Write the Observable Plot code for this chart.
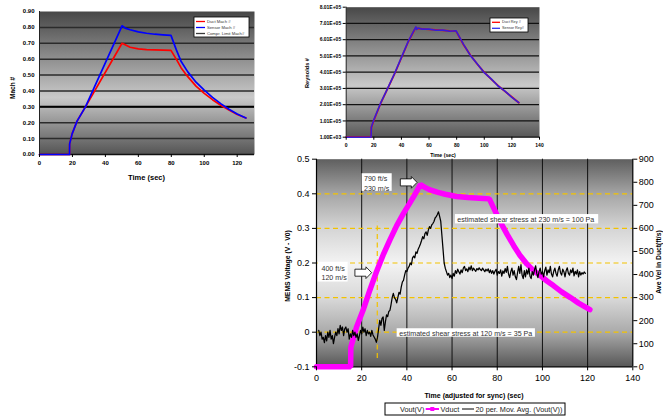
<!DOCTYPE html>
<html><head><meta charset="utf-8">
<script src="https://cdn.jsdelivr.net/npm/d3@7"></script>
<script src="https://cdn.jsdelivr.net/npm/@observablehq/plot@0.6"></script>
<style>
body{margin:0;background:#fff;}
#wrap{position:relative;width:663px;height:416px;overflow:hidden;background:#fff;}
#wrap > div{position:absolute;}
</style></head><body><div id="wrap"></div>
<script>
// ================= DATA =================
// Panel 1 : Mach number vs time (sec)
const machTime   = [0, 18.2, 18.3, 19.8, 22.8, 27.9, 50.1, 52, 55, 60, 65, 70, 75, 79.8, 83, 86, 90, 95, 100, 105, 110, 115, 120, 125.3];
const ductMach   = [0, 0, 0.067, 0.13, 0.21, 0.30, 0.70, 0.69, 0.675, 0.665, 0.66, 0.658, 0.657, 0.655, 0.60, 0.545, 0.49, 0.43, 0.385, 0.345, 0.31, 0.28, 0.252, 0.23];
const sensorMach = [0, 0, 0.067, 0.13, 0.21, 0.30, 0.81, 0.795, 0.785, 0.772, 0.763, 0.757, 0.753, 0.75, 0.66, 0.585, 0.52, 0.455, 0.405, 0.36, 0.32, 0.285, 0.255, 0.23];
const comprLimitMach = [0.30];
const machXTicks = [0, 20, 40, 60, 80, 100, 120];
const machYTicks = [0, 0.1, 0.2, 0.3, 0.4, 0.5, 0.6, 0.7, 0.8, 0.9];
const machLegend = ["Duct Mach #", "Sensor Mach #", "Compr. Limit Mach#"];

// Panel 2 : Reynolds number vs time (sec)
const reyTime   = [0, 18, 18.2, 20, 25, 30, 35, 40, 45, 50, 50.5, 51, 52, 55, 60, 65, 70, 75, 79.5, 80.5, 85, 90, 95, 100, 105, 110, 115, 120, 125];
const ductRey   = [1000, 1000, 60000, 105000, 210000, 300000, 390000, 490000, 590000, 670000, 676000, 668000, 670000, 668000, 664000, 661000, 658000, 655000, 654000, 640000, 570000, 505000, 450000, 400000, 358000, 318000, 283000, 248000, 213000];
const sensorRey = [1000, 1000, 62000, 108000, 212000, 302000, 392000, 492000, 592000, 672000, 680000, 664000, 673000, 666000, 666000, 659000, 660000, 653000, 656000, 642000, 572000, 503000, 452000, 398000, 360000, 316000, 285000, 246000, 214000];
const reyXTicks = [0, 20, 40, 60, 80, 100, 120, 140];
const reyYTicks = [1000, 101000, 201000, 301000, 401000, 501000, 601000, 701000, 801000];
const reyYLabels = ["1.00E+03", "1.01E+05", "2.01E+05", "3.01E+05", "4.01E+05", "5.01E+05", "6.01E+05", "7.01E+05", "8.01E+05"];
const reyLegend = ["Duct Rey #", "Sensor Rey#"];

// Panel 3 : MEMS voltage and duct velocity vs time (adjusted for sync)
const vductTime = [0, 15.1, 15.2, 17.7, 20.6, 23.6, 26.5, 29.5, 32.5, 35.5, 38.5, 41, 43, 46, 48, 50, 53.4, 57, 62, 67, 72, 76.5, 81.4, 84.5, 87.3, 90, 93.2, 96, 99.1, 102, 105, 108.5, 112.4, 116, 121];
const vductFtS  = [0, 0, 85, 172, 245, 332, 411, 485, 550, 612, 665, 705, 738, 790, 778, 768, 757, 748, 738, 734, 731, 728, 627, 572, 525, 484, 445, 418, 395, 372, 351, 325, 300, 276, 248];
// 20-period moving average of Vout(V), sampled every 0.5 s, in three runs
const mavgStart = [1, 27.5, 58];
const mavgStep = 0.5;
const mavgRun1 = [0.005,-0.01,0.0,-0.02,-0.015,-0.03,-0.01,-0.025,0.0,-0.015,
  0.005,-0.02,-0.01,-0.033,-0.015,0.0,-0.01,0.01,-0.005,0.02,
  0.005,0.015,-0.01,0.01,0.015,0.0,0.01,-0.02,-0.005,-0.015,
  0.005,-0.01,0.0,-0.015,-0.005,-0.024,-0.01,0.005,-0.005,0.015,
  0.0,0.01,-0.01,0.005,-0.005,0.0,-0.012,0.005,-0.008,-0.014,
  -0.02,-0.029,-0.015];
const mavgRun2 = [0.01,0.034,0.02,0.04,0.044,0.005,0.03,0.05,0.045,0.06,
  0.063,0.08,0.1,0.112,0.1,0.095,0.085,0.1,0.115,0.11,
  0.13,0.145,0.15,0.165,0.178,0.175,0.185,0.19,0.2,0.195,
  0.215,0.22,0.215,0.232,0.228,0.24,0.247,0.255,0.265,0.276,
  0.27,0.285,0.29,0.28,0.295,0.305,0.3,0.31,0.314,0.32,
  0.33,0.334,0.34,0.348,0.335,0.32,0.28,0.24,0.2,0.185,
  0.175];
const mavgRun3 = [0.165,0.17,0.158,0.165,0.155,0.17,0.162,0.178,0.17,0.182,
  0.175,0.168,0.18,0.172,0.185,0.19,0.178,0.183,0.175,0.188,
  0.18,0.192,0.178,0.185,0.18,0.176,0.184,0.18,0.186,0.181,
  0.178,0.185,0.18,0.175,0.182,0.177,0.183,0.172,0.18,0.17,
  0.178,0.168,0.176,0.182,0.165,0.175,0.17,0.18,0.162,0.177,
  0.17,0.184,0.173,0.19,0.168,0.158,0.175,0.185,0.165,0.178,
  0.16,0.152,0.172,0.19,0.17,0.195,0.165,0.155,0.178,0.16,
  0.18,0.168,0.185,0.162,0.155,0.175,0.165,0.18,0.192,0.17,
  0.158,0.175,0.185,0.168,0.175,0.16,0.178,0.188,0.165,0.18,
  0.172,0.19,0.168,0.16,0.176,0.185,0.17,0.162,0.18,0.19,
  0.172,0.165,0.182,0.175,0.16,0.178,0.186,0.17,0.165,0.18,
  0.172,0.185,0.163,0.176,0.168,0.18,0.16,0.175,0.165,0.172,
  0.168,0.174,0.17];
const p3XTicks = [0, 20, 40, 60, 80, 100, 120, 140];
const p3YTicks = [-0.1, 0, 0.1, 0.2, 0.3, 0.4, 0.5];
const p3VelTicks = [0, 100, 200, 300, 400, 500, 600, 700, 800, 900];
const p3GridT = [20, 40, 60, 80, 100, 120];
const p3DashV = [0, 0.1, 0.2, 0.3, 0.4];
const p3Legend = ["Vout(V)", "Vduct", "20 per. Mov. Avg. (Vout(V))"];
// annotations (data coordinates)
const boxLabels = ["790 ft/s\n230 m/s", "400 ft/s\n120 m/s", "estimated shear stress at 230 m/s = 100 Pa", "estimated shear stress at 120 m/s = 35 Pa"];
const boxT1 = [20.2, 0.75, 61.5, 35.7];
const boxT2 = [33.5, 14.0, 124.9, 96.9];
const boxV1 = [0.407, 0.145, 0.313, -0.0145];
const boxV2 = [0.458, 0.202, 0.340, 0.010];
const textT = [21.0, 2.2, 62.3, 36.6];
const textV = [0.431, 0.173, 0.3265, -0.002];
const arrowT = [40.8, 20.7];
const arrowV = [0.433, 0.172];
const guideT = [26.9], guideV1 = [-0.076], guideV2 = [0.318];

// ================= HELPERS =================
const FONT = "'Liberation Sans', Arial, Helvetica, sans-serif";
const wrap = document.getElementById("wrap");
function place(node, left, top) {
  const d = document.createElement("div");
  d.style.left = left + "px"; d.style.top = top + "px";
  d.appendChild(node); wrap.appendChild(d);
}
function gradient(id, stops) {
  return () => {
    const defs = d3.create("svg:defs");
    const g = defs.append("linearGradient").attr("id", id)
      .attr("x1", "0").attr("y1", "0").attr("x2", "0").attr("y2", "1");
    for (const [o, c] of stops) g.append("stop").attr("offset", o).attr("stop-color", c);
    return defs.node();
  };
}
const blockArrow = {
  draw(context, size) {
    const r = Math.sqrt(size / Math.PI);
    const bh = 0.42 * r, hh = 0.7 * r, hx = 0.32 * r;
    context.moveTo(-r, -bh); context.lineTo(hx, -bh); context.lineTo(hx, -hh);
    context.lineTo(r, 0); context.lineTo(hx, hh); context.lineTo(hx, bh);
    context.lineTo(-r, bh); context.closePath();
  }
};

// ================= PANEL 1 =================
const machData = machTime.map((t, i) => ({t, duct: ductMach[i], sensor: sensorMach[i]}));
const p1 = Plot.plot({
  width: 263, height: 190, marginLeft: 39, marginRight: 9, marginTop: 11, marginBottom: 36,
  style: {background: "none", fontFamily: FONT, fontSize: "6px", fontWeight: "bold", color: "#000", overflow: "visible"},
  x: {domain: [0, 130.5]}, y: {domain: [0, 0.9]},
  marks: [
    gradient("gMach", [[0, "#474747"], [0.6, "#c9c9c9"], [1, "#545454"]]),
    Plot.frame({fill: "url(#gMach)", stroke: "none"}),
    Plot.ruleY(machYTicks.filter(d => d > 0 && d < 0.9), {stroke: "#2b2b2b", strokeWidth: 1.5}),
    Plot.ruleY(comprLimitMach, {stroke: "#000", strokeWidth: 2}),
    Plot.ruleX([0], {stroke: "#222", strokeWidth: 1}),
    Plot.ruleY([0], {stroke: "#111", strokeWidth: 1.3}),
    Plot.line(machData, {x: "t", y: "duct", stroke: "#ff0000", strokeWidth: 1.7}),
    Plot.line(machData, {x: "t", y: "sensor", stroke: "#0000ff", strokeWidth: 1.7}),
    Plot.axisX({ticks: machXTicks, tickSize: 3, tickPadding: 3, tickFormat: d => String(d), label: null}),
    Plot.axisY({ticks: machYTicks, tickSize: 0, tickPadding: 5, tickFormat: d => d.toFixed(2), label: null})
  ]
});
place(p1, 0, 0);

// ================= PANEL 2 =================
const reyData = reyTime.map((t, i) => ({t, duct: ductRey[i], sensor: sensorRey[i]}));
const p2 = Plot.plot({
  width: 255, height: 160, marginLeft: 55.7, marginRight: 6, marginTop: 6.7, marginBottom: 23.3,
  style: {background: "none", fontFamily: FONT, fontSize: "5px", fontWeight: "bold", color: "#000", overflow: "visible"},
  x: {domain: [0, 140]}, y: {domain: [1000, 801000]},
  marks: [
    gradient("gRey", [[0, "#484848"], [0.6, "#c9c9c9"], [1, "#575757"]]),
    Plot.frame({fill: "url(#gRey)", stroke: "none"}),
    Plot.ruleY(reyYTicks.slice(1, -1), {stroke: "#111", strokeWidth: 1.3}),
    Plot.ruleX([0], {stroke: "#222", strokeWidth: 1}),
    Plot.ruleY([1000], {stroke: "#111", strokeWidth: 1.3}),
    Plot.line(reyData, {x: "t", y: "duct", stroke: "#ff0000", strokeWidth: 1.8}),
    Plot.line(reyData, {x: "t", y: "sensor", stroke: "#2020ee", strokeWidth: 1.6, strokeOpacity: 0.9}),
    Plot.axisX({ticks: reyXTicks, tickSize: 3, tickPadding: 3, tickFormat: d => String(d), label: null}),
    Plot.axisY({ticks: reyYTicks, tickSize: 3, tickPadding: 2, tickFormat: (d, i) => reyYLabels[i], label: null})
  ]
});
place(p2, 290, 0);

// ================= PANEL 3 =================
const toV = v => v / 1500 - 0.1; // secondary axis: 0–900 ft/s spans the same height as -0.1–0.5 V
const vductData = vductTime.map((t, i) => ({t, v: toV(vductFtS[i])}));
const mavgData = [];
[mavgRun1, mavgRun2, mavgRun3].forEach((run, k) => run.forEach((v, i) => mavgData.push({t: mavgStart[k] + i * mavgStep, v})));
const boxes = boxLabels.map((label, i) => ({label, t1: boxT1[i], t2: boxT2[i], v1: boxV1[i], v2: boxV2[i], tt: textT[i], tv: textV[i]}));
const arrows = arrowT.map((t, i) => ({t, v: arrowV[i]}));
const guides = guideT.map((t, i) => ({t, v1: guideV1[i], v2: guideV2[i]}));

const p3 = Plot.plot({
  width: 383, height: 276, marginLeft: 36, marginRight: 30.7, marginTop: 18.7, marginBottom: 49.7,
  style: {background: "none", fontFamily: FONT, fontSize: "9px", color: "#000", overflow: "visible"},
  x: {domain: [0, 140]}, y: {domain: [-0.1, 0.5]},
  marks: [
    gradient("gMems", [[0, "#5f5f5f"], [0.17, "#a6a6a6"], [0.33, "#d4d4d4"], [0.5, "#f3f3f3"], [0.67, "#d8d8d8"], [0.83, "#ababab"], [1, "#575757"]]),
    Plot.frame({fill: "url(#gMems)", stroke: "none"}),
    Plot.ruleX(p3GridT, {stroke: "#111", strokeWidth: 1}),
    Plot.ruleY(p3DashV, {stroke: "#f2c200", strokeWidth: 1.2, strokeDasharray: "5,3.5"}),
    Plot.ruleX(guides, {x: "t", y1: "v1", y2: "v2", stroke: "#f2c200", strokeWidth: 1.2, strokeDasharray: "5,3.5"}),
    Plot.ruleX([0], {stroke: "#000", strokeWidth: 1.2}),
    Plot.ruleX([140], {stroke: "#000", strokeWidth: 1.2}),
    Plot.ruleY([-0.1], {stroke: "#000", strokeWidth: 1.2}),
    Plot.line(vductData, {x: "t", y: "v", stroke: "#ff00ff", strokeWidth: 5.5, strokeLinejoin: "miter"}),
    Plot.line(mavgData, {x: "t", y: "v", stroke: "#000", strokeWidth: 1.25}),
    Plot.rect(boxes, {x1: "t1", x2: "t2", y1: "v1", y2: "v2", fill: "#fff"}),
    Plot.text(boxes, {x: "tt", y: "tv", text: "label", textAnchor: "start", lineAnchor: "middle", lineHeight: 1.4, fontSize: 7.1, fill: "#333"}),
    Plot.dot(arrows, {x: "t", y: "v", r: 8.35, symbol: blockArrow, fill: "#fff", stroke: "#000", strokeWidth: 0.8}),
    Plot.axisX({ticks: p3XTicks, tickSize: 4, tickPadding: 4, tickFormat: d => String(d), label: null}),
    Plot.axisY({anchor: "left", ticks: p3YTicks, tickSize: 4, tickPadding: 3, tickFormat: d => String(Math.round(d * 10) / 10), label: null}),
    Plot.axisY({anchor: "right", ticks: p3VelTicks.map(toV), tickSize: 4, tickPadding: 2, tickFormat: d => String(Math.round((d + 0.1) * 1500)), label: null})
  ]
});
place(p3, 280, 140);

// ================= TITLES & LEGENDS =================
const ov = d3.create("svg").attr("width", 663).attr("height", 416)
  .style("font-family", FONT).style("overflow", "visible");
function title(txt, x, y, size, rot) {
  ov.append("text").attr("transform", `translate(${x},${y})` + (rot ? ` rotate(${rot})` : ""))
    .attr("text-anchor", "middle").attr("dominant-baseline", "central")
    .attr("font-size", size).attr("font-weight", "bold").attr("fill", "#000").text(txt);
}
title("Time (sec)", 146.5, 177, 7.5);
title("Mach #", 12, 88, 6.5, -90);
title("Time (sec)", 443, 155, 5.2);
title("Reynolds #", 307, 73, 5.6, -90);
title("Time (adjusted for sync) (sec)", 474, 395, 7);
title("MEMS Voltage (V - V0)", 287, 266, 6.8, -90);
title("Ave Vel in Duct(ft/s)", 658, 262, 6.8, -90);

// panel 1 legend
const machColors = ["#ff0000", "#0000ff", "#3a3a3a"];
ov.append("rect").attr("x", 194).attr("y", 17).attr("width", 55).attr("height", 20).attr("fill", "#fff").attr("stroke", "#000").attr("stroke-width", 0.8);
machLegend.forEach((txt, i) => {
  const y = 21.5 + i * 6;
  ov.append("line").attr("x1", 196).attr("x2", 205).attr("y1", y).attr("y2", y).attr("stroke", machColors[i]).attr("stroke-width", 1.3);
  ov.append("text").attr("x", 207).attr("y", y).attr("dominant-baseline", "central").attr("font-size", 4.2).attr("fill", "#333").text(txt);
});
// panel 2 legend
const reyColors = ["#ff0000", "#3030ee"];
ov.append("rect").attr("x", 490).attr("y", 18).attr("width", 38).attr("height", 14).attr("fill", "#fff").attr("stroke", "#000").attr("stroke-width", 0.8);
reyLegend.forEach((txt, i) => {
  const y = 22.3 + i * 6;
  ov.append("line").attr("x1", 492).attr("x2", 500).attr("y1", y).attr("y2", y).attr("stroke", reyColors[i]).attr("stroke-width", 1.3);
  ov.append("text").attr("x", 502).attr("y", y).attr("dominant-baseline", "central").attr("font-size", 3.8).attr("fill", "#333").text(txt);
});
// panel 3 legend
ov.append("rect").attr("x", 385).attr("y", 403).attr("width", 180).attr("height", 12).attr("fill", "#fff").attr("stroke", "#000").attr("stroke-width", 1);
const ly = 409;
ov.append("text").attr("x", 400).attr("y", ly).attr("dominant-baseline", "central").attr("font-size", 7.3).attr("fill", "#222").text(p3Legend[0]);
ov.append("line").attr("x1", 425.7).attr("x2", 439).attr("y1", ly).attr("y2", ly).attr("stroke", "#ff00ff").attr("stroke-width", 2);
ov.append("rect").attr("x", 430.3).attr("y", ly - 2).attr("width", 4).attr("height", 4).attr("fill", "#ff00ff");
ov.append("text").attr("x", 440.5).attr("y", ly).attr("dominant-baseline", "central").attr("font-size", 7.3).attr("fill", "#222").text(p3Legend[1]);
ov.append("line").attr("x1", 462).attr("x2", 474).attr("y1", ly).attr("y2", ly).attr("stroke", "#000").attr("stroke-width", 1);
ov.append("text").attr("x", 475.5).attr("y", ly).attr("dominant-baseline", "central").attr("font-size", 7.3).attr("fill", "#222").text(p3Legend[2]);
const ovDiv = ov.node();
place(ovDiv, 0, 0);
ovDiv.parentNode.style.pointerEvents = "none";
</script></body></html>
